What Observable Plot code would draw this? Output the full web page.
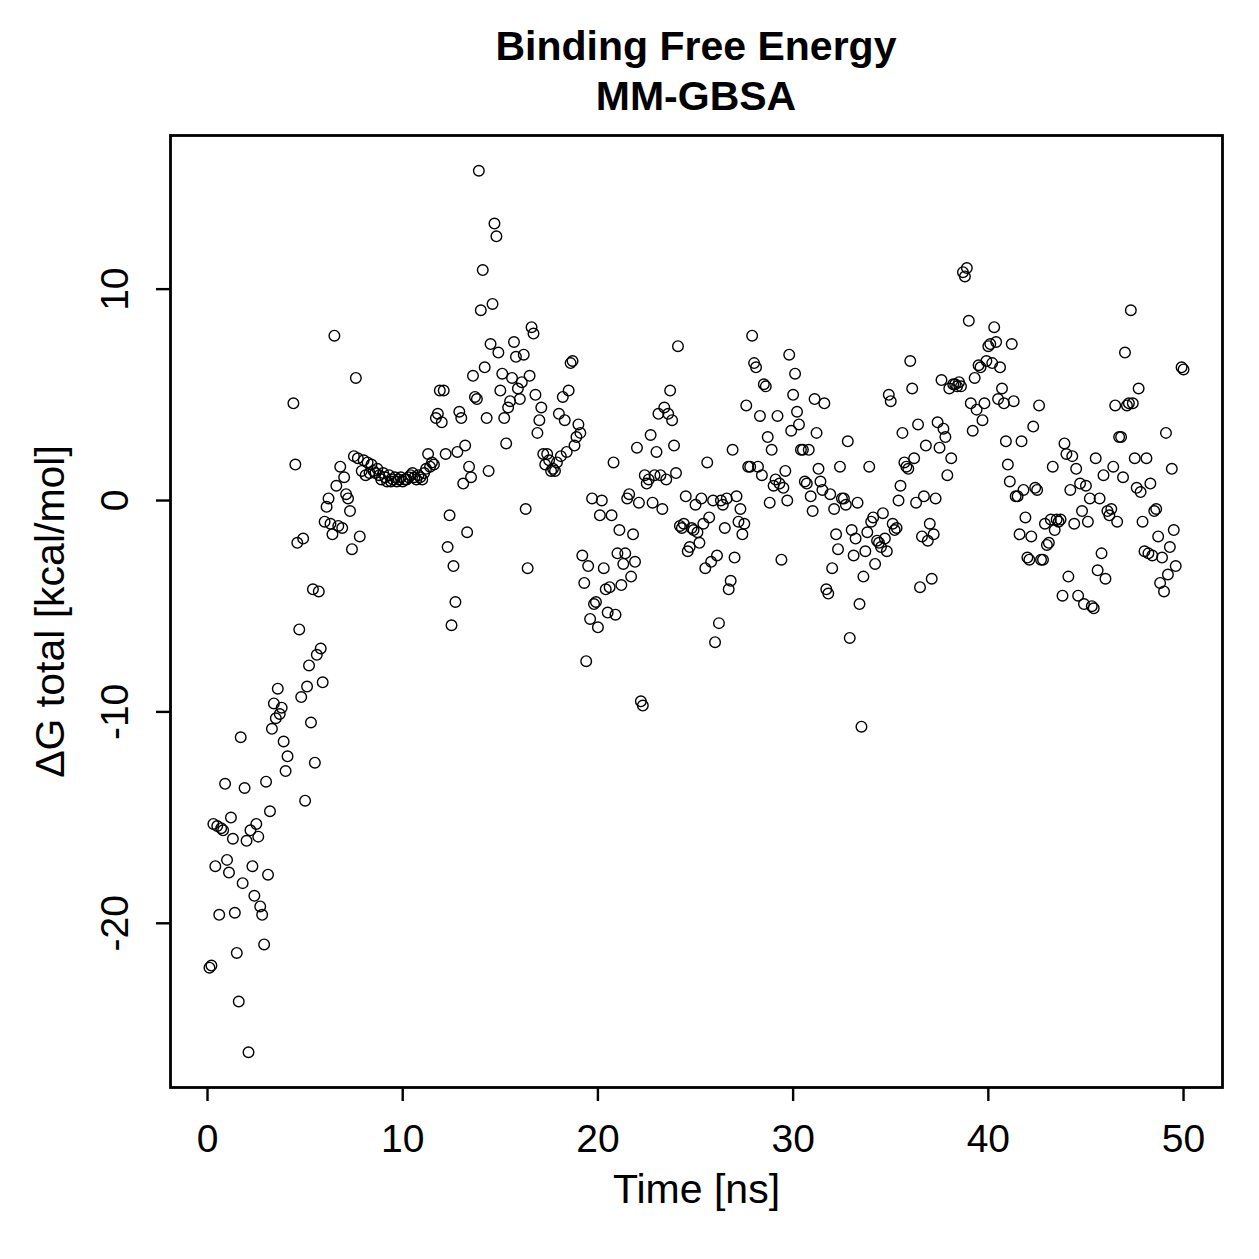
<!DOCTYPE html>
<html>
<head>
<meta charset="utf-8">
<script src="https://cdn.jsdelivr.net/npm/d3@7"></script>
<script src="https://cdn.jsdelivr.net/npm/@observablehq/plot@0.6"></script>
<style>
  body { margin: 0; background: white; font-family: "Liberation Sans", Arial, Helvetica, sans-serif; }
  #wrap { width: 1259px; }
  #title { height: 125px; box-sizing: border-box; padding-top: 21px; margin-left: 170px; width: 1052px;
           text-align: center; font-weight: bold; font-size: 41px; line-height: 50px; color: black; }
  svg { display: block; }
</style>
</head>
<body>
<div id="wrap">
  <div id="title">Binding Free Energy<br>MM-GBSA</div>
  <div id="chart"></div>
</div>
<script>
const titleLines = ["Binding Free Energy", "MM-GBSA"];
const xLabel = "Time [ns]";
const yLabel = "ΔG total [kcal/mol]";
const xTicks = [0, 10, 20, 30, 40, 50];
const yTicks = [-20, -10, 0, 10];
const yTickLabels = ["-20", "-10", "0", "10"];

const time = [
  0.1,0.2,0.3,0.4,0.5,0.6,0.7,0.8,0.9,1.0,
  1.1,1.2,1.3,1.4,1.5,1.6,1.7,1.8,1.9,2.0,
  2.1,2.2,2.3,2.4,2.5,2.6,2.7,2.8,2.9,3.0,
  3.1,3.2,3.3,3.4,3.5,3.6,3.7,3.8,3.9,4.0,
  4.1,4.4,4.5,4.6,4.7,4.8,4.9,5.0,5.1,5.2,
  5.3,5.4,5.5,5.6,5.7,5.8,5.9,6.0,6.1,6.2,
  6.3,6.4,6.5,6.6,6.7,6.8,6.9,7.0,7.1,7.2,
  7.3,7.4,7.5,7.6,7.7,7.8,7.9,8.0,8.1,8.2,
  8.3,8.4,8.5,8.6,8.7,8.8,8.9,9.0,9.1,9.2,
  9.3,9.4,9.5,9.6,9.7,9.8,9.9,10.0,10.1,10.2,
  10.3,10.4,10.5,10.6,10.7,10.8,10.9,11.0,11.1,11.2,
  11.3,11.4,11.5,11.6,11.7,11.8,11.9,12.0,12.1,12.2,
  12.3,12.4,12.5,12.6,12.7,12.8,12.9,13.0,13.1,13.2,
  13.3,13.4,13.5,13.6,13.7,13.8,13.9,14.0,14.1,14.2,
  14.3,14.4,14.5,14.6,14.7,14.8,14.9,15.0,15.1,15.2,
  15.3,15.4,15.5,15.6,15.7,15.8,15.9,16.0,16.1,16.2,
  16.3,16.4,16.5,16.6,16.7,16.8,16.9,17.0,17.1,17.2,
  17.3,17.4,17.5,17.6,17.7,17.8,17.9,18.0,18.1,18.2,
  18.3,18.4,18.5,18.6,18.7,18.8,18.9,19.0,19.1,19.2,
  19.3,19.4,19.5,19.6,19.7,19.8,19.9,20.0,20.1,20.2,
  20.3,20.4,20.5,20.6,20.7,20.8,20.9,21.0,21.1,21.2,
  21.3,21.4,21.5,21.6,21.7,21.8,21.9,22.0,22.1,22.2,
  22.3,22.4,22.5,22.6,22.7,22.8,22.9,23.0,23.1,23.2,
  23.3,23.4,23.5,23.6,23.7,23.8,23.9,24.0,24.1,24.2,
  24.3,24.4,24.5,24.6,24.7,24.8,24.9,25.0,25.1,25.2,
  25.3,25.4,25.5,25.6,25.7,25.8,25.9,26.0,26.1,26.2,
  26.3,26.4,26.5,26.6,26.7,26.8,26.9,27.0,27.1,27.2,
  27.3,27.4,27.5,27.6,27.7,27.8,27.9,28.0,28.1,28.2,
  28.3,28.4,28.5,28.6,28.7,28.8,28.9,29.0,29.1,29.2,
  29.3,29.4,29.5,29.6,29.7,29.8,29.9,30.0,30.1,30.2,
  30.3,30.4,30.5,30.6,30.7,30.8,30.9,31.0,31.1,31.2,
  31.3,31.4,31.5,31.6,31.7,31.8,31.9,32.0,32.1,32.2,
  32.3,32.4,32.5,32.6,32.7,32.8,32.9,33.0,33.1,33.2,
  33.3,33.4,33.5,33.6,33.7,33.8,33.9,34.0,34.1,34.2,
  34.3,34.4,34.5,34.6,34.7,34.8,34.9,35.0,35.1,35.2,
  35.3,35.4,35.5,35.6,35.7,35.8,35.9,36.0,36.1,36.2,
  36.3,36.4,36.5,36.6,36.7,36.8,36.9,37.0,37.1,37.2,
  37.3,37.4,37.5,37.6,37.7,37.8,37.9,38.0,38.1,38.2,
  38.3,38.4,38.5,38.6,38.7,38.8,38.9,39.0,39.1,39.2,
  39.3,39.4,39.5,39.6,39.7,39.8,39.9,40.0,40.1,40.2,
  40.3,40.4,40.5,40.6,40.7,40.8,40.9,41.0,41.1,41.2,
  41.3,41.4,41.5,41.6,41.7,41.8,41.9,42.0,42.1,42.2,
  42.3,42.4,42.5,42.6,42.7,42.8,42.9,43.0,43.1,43.2,
  43.3,43.4,43.5,43.6,43.7,43.8,43.9,44.0,44.1,44.2,
  44.3,44.4,44.5,44.6,44.7,44.8,44.9,45.0,45.1,45.2,
  45.3,45.4,45.5,45.6,45.7,45.8,45.9,46.0,46.1,46.2,
  46.3,46.4,46.5,46.6,46.7,46.8,46.9,47.0,47.1,47.2,
  47.3,47.4,47.5,47.6,47.7,47.8,47.9,48.0,48.1,48.2,
  48.3,48.4,48.5,48.6,48.7,48.8,48.9,49.0,49.1,49.2,
  49.3,49.4,49.5,49.6,49.9,50.0
];

const dG = [
  -22.1,-22.0,-15.3,-17.3,-15.4,-19.6,-15.5,-15.6,-13.4,-17.0,
  -17.6,-15.0,-16.0,-19.5,-21.4,-23.7,-11.2,-18.1,-13.6,-16.1,
  -26.1,-15.6,-17.3,-18.7,-15.3,-15.9,-19.2,-19.6,-21.0,-13.3,
  -17.7,-14.7,-10.8,-9.6,-10.3,-8.9,-10.1,-9.8,-11.4,-12.8,
  -12.1,4.6,1.7,-2.0,-6.1,-9.3,-1.8,-14.2,-8.8,-7.8,
  -10.5,-4.2,-12.4,-7.3,-4.3,-7.0,-8.6,-1.0,-0.3,0.1,
  -1.1,-1.6,7.8,0.7,-1.2,1.6,-1.3,1.1,0.3,0.1,
  -0.5,-2.3,2.1,5.8,2.0,-1.7,1.4,1.9,1.2,1.8,
  1.3,1.7,1.4,1.3,1.5,1.2,1.0,1.3,1.1,0.9,
  1.2,0.9,1.0,1.1,0.9,1.0,1.1,0.9,1.0,1.0,
  1.1,1.2,1.3,1.1,1.0,1.2,1.1,1.0,1.3,1.5,
  2.2,1.6,1.8,1.7,3.9,4.1,5.2,3.7,5.2,2.2,
  -2.2,-0.7,-5.9,-3.1,-4.8,2.3,4.2,3.9,0.8,2.6,
  -1.5,1.6,1.1,5.9,4.9,4.8,15.6,9.0,10.9,6.3,
  3.9,1.4,7.4,9.3,13.1,12.5,7.0,5.2,6.0,3.9,
  2.7,4.4,4.7,5.8,7.5,6.8,5.3,4.8,5.6,6.9,
  -0.4,-3.2,5.9,8.2,7.9,5.0,3.2,3.8,4.4,2.2,
  1.7,2.2,1.9,1.4,1.5,1.4,1.8,4.1,2.1,4.9,
  3.8,2.3,5.2,6.5,6.6,2.6,3.0,3.6,3.2,-2.6,
  -3.9,-7.6,-3.1,-5.6,0.1,-4.9,-4.8,-6.0,-0.7,0.0,
  -3.2,-4.2,-5.3,-4.1,-0.7,1.8,-5.4,-2.5,-1.4,-4.0,
  -3.0,-2.5,0.1,0.3,-3.6,-1.6,-2.9,2.5,-0.1,-9.5,
  -9.7,1.2,0.8,1.0,3.1,-0.1,1.2,2.3,4.1,1.2,
  -0.4,4.4,1.0,4.1,5.2,3.8,2.6,1.3,7.3,-1.2,
  -1.3,-1.1,0.2,-2.4,-2.2,-1.3,-1.4,-0.2,-1.5,-2.0,
  0.1,-1.1,-3.2,1.8,-0.8,-2.9,0.0,-6.7,-2.6,-5.8,
  0.0,-0.2,-1.3,0.1,-4.2,-3.8,2.4,-2.7,0.2,-1.0,
  -0.4,-1.6,-1.1,4.5,1.6,1.6,7.8,6.5,6.3,1.6,
  4.0,1.2,5.5,5.4,3.0,-0.1,2.4,0.7,1.0,4.0,
  0.8,-2.8,0.6,1.4,0.0,6.9,3.3,5.0,6.0,4.2,
  3.6,2.4,2.4,0.9,0.8,2.4,0.2,-0.5,4.8,3.2,
  1.5,0.9,0.5,4.6,-4.2,-4.4,0.3,-3.2,-0.4,-1.6,
  -2.3,1.6,0.1,0.1,-0.2,2.8,-6.5,-1.4,-2.6,-1.8,
  -0.1,-4.9,-10.7,-3.6,-2.4,-1.5,1.6,-1.0,-0.8,-3.0,
  -1.9,-2.0,-2.2,-0.6,-1.8,-2.4,5.0,4.7,-1.1,-1.4,
  -1.3,0.0,0.7,3.2,1.8,1.6,1.5,6.6,5.3,2.0,
  -0.1,3.6,-4.1,-1.7,0.2,2.6,-1.9,-1.1,-3.7,-1.6,
  0.1,3.7,2.5,5.7,3.4,3.0,1.2,5.3,2.0,5.5,
  5.5,5.4,5.6,5.4,10.8,10.6,11.0,8.5,4.6,3.3,
  5.8,4.3,6.4,6.3,3.8,4.6,6.6,7.3,7.4,6.5,
  8.2,7.5,4.8,6.3,5.3,4.6,2.8,1.7,0.9,7.4,
  4.7,0.2,0.2,-1.6,2.8,0.5,-0.8,-2.7,-2.8,-1.7,
  3.5,0.6,0.5,4.5,-2.8,-2.8,-1.1,-2.1,-2.0,-0.9,
  1.6,-1.4,-0.9,-1.0,-0.9,-4.5,2.7,2.2,-3.6,0.5,
  2.1,-1.1,1.5,-4.5,0.8,-0.5,-4.9,0.7,-1.0,0.1,
  -5.0,-5.1,2.0,-3.3,0.1,-2.5,1.2,-3.7,-0.5,-0.7,
  -0.4,1.6,4.5,-1.0,3.0,3.0,1.1,7.0,4.5,4.6,
  9.0,4.6,2.0,0.6,5.3,0.4,-1.0,-2.4,2.0,-2.5,
  0.8,-2.6,-0.5,-0.4,-1.7,-3.9,-2.7,-4.3,3.2,-3.5,
  -2.2,1.5,-1.4,-3.1,6.3,6.2
];

const points = time.map((t, i) => ({t, g: dG[i]}));

// R-style 4% padding of the data range
const xmin = d3.min(time), xmax = d3.max(time);
const ymin = d3.min(dG), ymax = d3.max(dG);
const xpad = (xmax - xmin) * 0.04, ypad = (ymax - ymin) * 0.04;

const font = '"Liberation Sans", Arial, Helvetica, sans-serif';

const chart = Plot.plot({
  width: 1259,
  height: 1134,
  marginTop: 10,
  marginBottom: 172,
  marginLeft: 170,
  marginRight: 37,
  style: {fontFamily: font, background: "white", color: "black", overflow: "visible"},
  x: {domain: [xmin - xpad, xmax + xpad]},
  y: {domain: [ymin - ypad, ymax + ypad]},
  marks: [
    Plot.frame({stroke: "black", strokeWidth: 2.8}),
    Plot.axisX({ticks: xTicks, tickSize: 14, tickPadding: 23, fontSize: 39, strokeWidth: 2.4,
                tickFormat: d => String(d), label: null}),
    Plot.axisY({ticks: yTicks, tickSize: 14, tickFormat: () => "", strokeWidth: 2.4, label: null}),
    Plot.text(yTicks, {y: d => d, text: (d, i) => yTickLabels[i], frameAnchor: "left",
                       textAnchor: "middle", rotate: -90, dx: -55, fontSize: 39, fill: "black"}),
    Plot.text([yLabel], {text: d => d, frameAnchor: "left", textAnchor: "middle", rotate: -90, dx: -120,
                         fontSize: 41, fill: "black"}),
    Plot.text([xLabel], {text: d => d, frameAnchor: "bottom", dy: 115, fontSize: 41, fill: "black"}),
    Plot.dot(points, {x: "t", y: "g", r: 5.3, stroke: "black", fill: "none", strokeWidth: 1.4})
  ]
});
document.getElementById("chart").appendChild(chart);
</script>
</body>
</html>
